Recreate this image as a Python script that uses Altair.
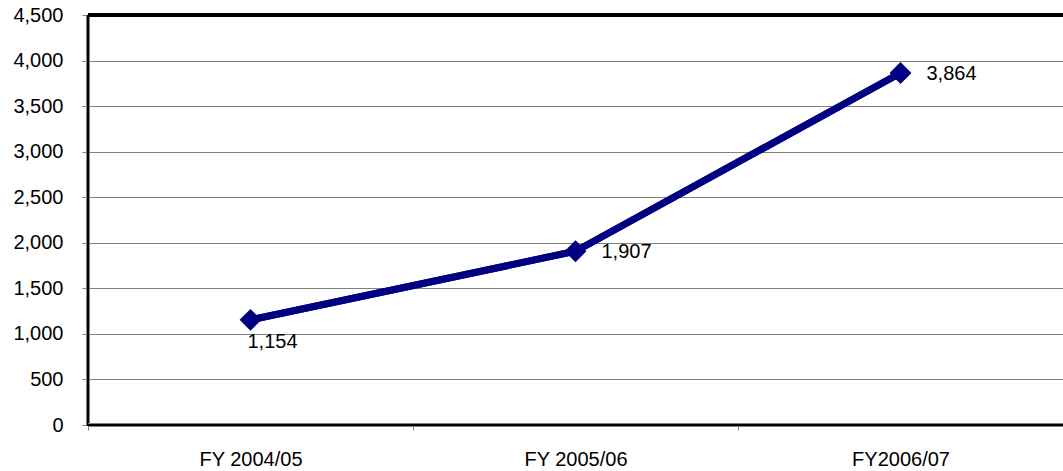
import altair as alt
import pandas as pd

categories = ["FY 2004/05", "FY 2005/06", "FY2006/07"]
values = [1154, 1907, 3864]
labels = ["1,154", "1,907", "3,864"]
y_ticks = [0, 500, 1000, 1500, 2000, 2500, 3000, 3500, 4000, 4500]

df = pd.DataFrame({"cat": categories, "val": values, "lab": labels})

FONT = "Liberation Sans"
FS = 20
W, H = 975, 410

x = alt.X("cat:N", sort=categories,
          scale=alt.Scale(type="band", paddingInner=0, paddingOuter=0),
          axis=alt.Axis(title=None, tickBand="extent", tickSize=5, tickColor="#808080",
                        labelAngle=0, labelFont=FONT, labelFontSize=FS, labelColor="black",
                        labelPadding=19, domain=False, grid=False))
y = alt.Y("val:Q", scale=alt.Scale(domain=[0, 4500], nice=False),
          axis=alt.Axis(title=None, values=y_ticks, format=",.0f", tickSize=6, tickColor="#808080",
                        labelFont=FONT, labelFontSize=FS, labelColor="black", labelPadding=19,
                        domain=False, grid=True, gridColor="#808080", gridWidth=1))

base = alt.Chart(df)

line = base.mark_line(color="#000080", strokeWidth=7).encode(x=x, y=y)
pts = base.mark_point(shape="diamond", filled=True, color="#000080", size=480, opacity=1).encode(x=x, y=y)

lab1 = base.transform_filter(alt.datum.cat == categories[0]).mark_text(
    align="left", baseline="middle", dx=-3, dy=22, font=FONT, fontSize=FS, color="black"
).encode(x=x, y=y, text="lab:N")
lab2 = base.transform_filter(alt.datum.cat != categories[0]).mark_text(
    align="left", baseline="middle", dx=26, dy=1, font=FONT, fontSize=FS, color="black"
).encode(x=x, y=y, text="lab:N")

top_line = base.mark_rule(color="black", strokeWidth=4).encode(
    x=alt.value(0), x2=alt.value(W + 10), y=alt.value(0))
left_gray = base.mark_rule(color="#808080", strokeWidth=4).encode(
    x=alt.value(0), y=alt.value(0), y2=alt.value(H + 1))
left_black = base.mark_rule(color="black", strokeWidth=2).encode(
    x=alt.value(0), y=alt.value(0), y2=alt.value(H + 1))
bot_gray = base.mark_rule(color="#808080", strokeWidth=4).encode(
    x=alt.value(0), x2=alt.value(W + 10), y=alt.value(H))
bot_black = base.mark_rule(color="black", strokeWidth=2).encode(
    x=alt.value(0), x2=alt.value(W + 10), y=alt.value(H))

chart = alt.layer(
    line, left_gray, left_black, bot_gray, bot_black, top_line, line, pts, lab1, lab2
).properties(
    width=W, height=H,
    autosize=alt.AutoSizeParams(type="none"),
    padding={"left": 88, "top": 15, "right": 0, "bottom": 46},
    background="white",
).configure_view(stroke=None)

chart.save("out.html", embed_options={"renderer": "svg", "actions": False})
